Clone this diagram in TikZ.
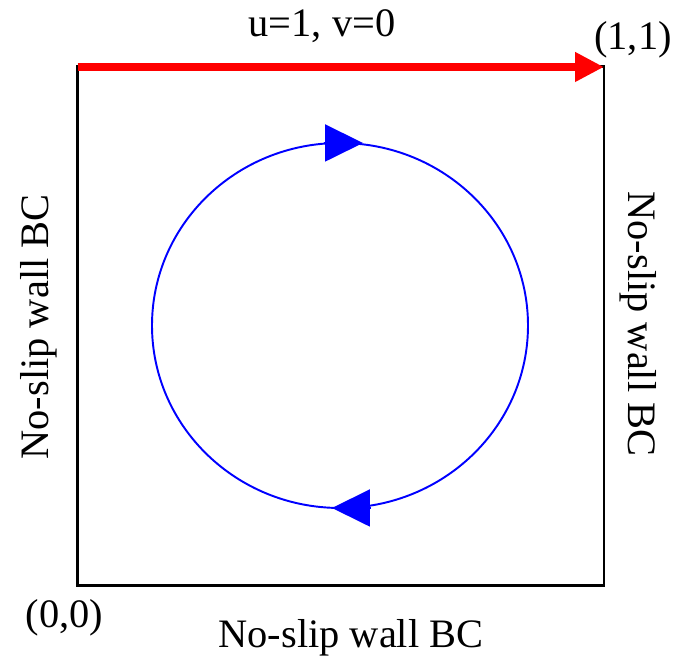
\documentclass[tikz,border=0pt]{standalone}
\usepackage{fontspec}
\setmainfont{Liberation Serif}
\usetikzlibrary{arrows.meta}

\begin{document}
\begin{tikzpicture}[x=0.02cm,y=0.02cm,
		lbl/.style={font=\fontsize{23}{27}\selectfont,anchor=base,inner sep=0pt},
		flow/.style={blue,line width=1.1pt,-{Triangle[length=0.76cm,width=0.74cm]}}]
		
		\useasboundingbox (0,0) rectangle (677,661);
		
		\coordinate (A) at (77.5,75.5);
		\coordinate (B) at (604,75.5);
		\coordinate (C) at (604,594);
		\coordinate (D) at (77.5,594);
		\coordinate (M) at (340,335.5);
		
		\draw[line width=1.7pt] (A)--(B)--(C)--(D)--cycle;
		
		\draw[red,line width=5.1pt,-{Triangle[length=0.58cm,width=0.56cm]}] (D)--(C);
		
		\draw[blue,line width=1.1pt] (M) ellipse [x radius=188,y radius=182.5];
		
		\draw[flow] (324,518)--(363,518);
		\draw[flow] (371,153)--(332,153);
		
		\node[lbl] (lid) at (322,624) {u=1, v=0};
		\node[lbl] (ne) at (633,611) {(1,1)};
		\node[lbl] (sw) at (64.5,33) {(0,0)};
		\node[lbl] (south) at (351,13) {No-slip wall BC};
		\node[lbl,rotate=90] (west) at (48,334) {No-slip wall BC};
		\node[lbl,rotate=-90] (east) at (628,337) {No-slip wall BC};
		
	\end{tikzpicture}
\end{document}
